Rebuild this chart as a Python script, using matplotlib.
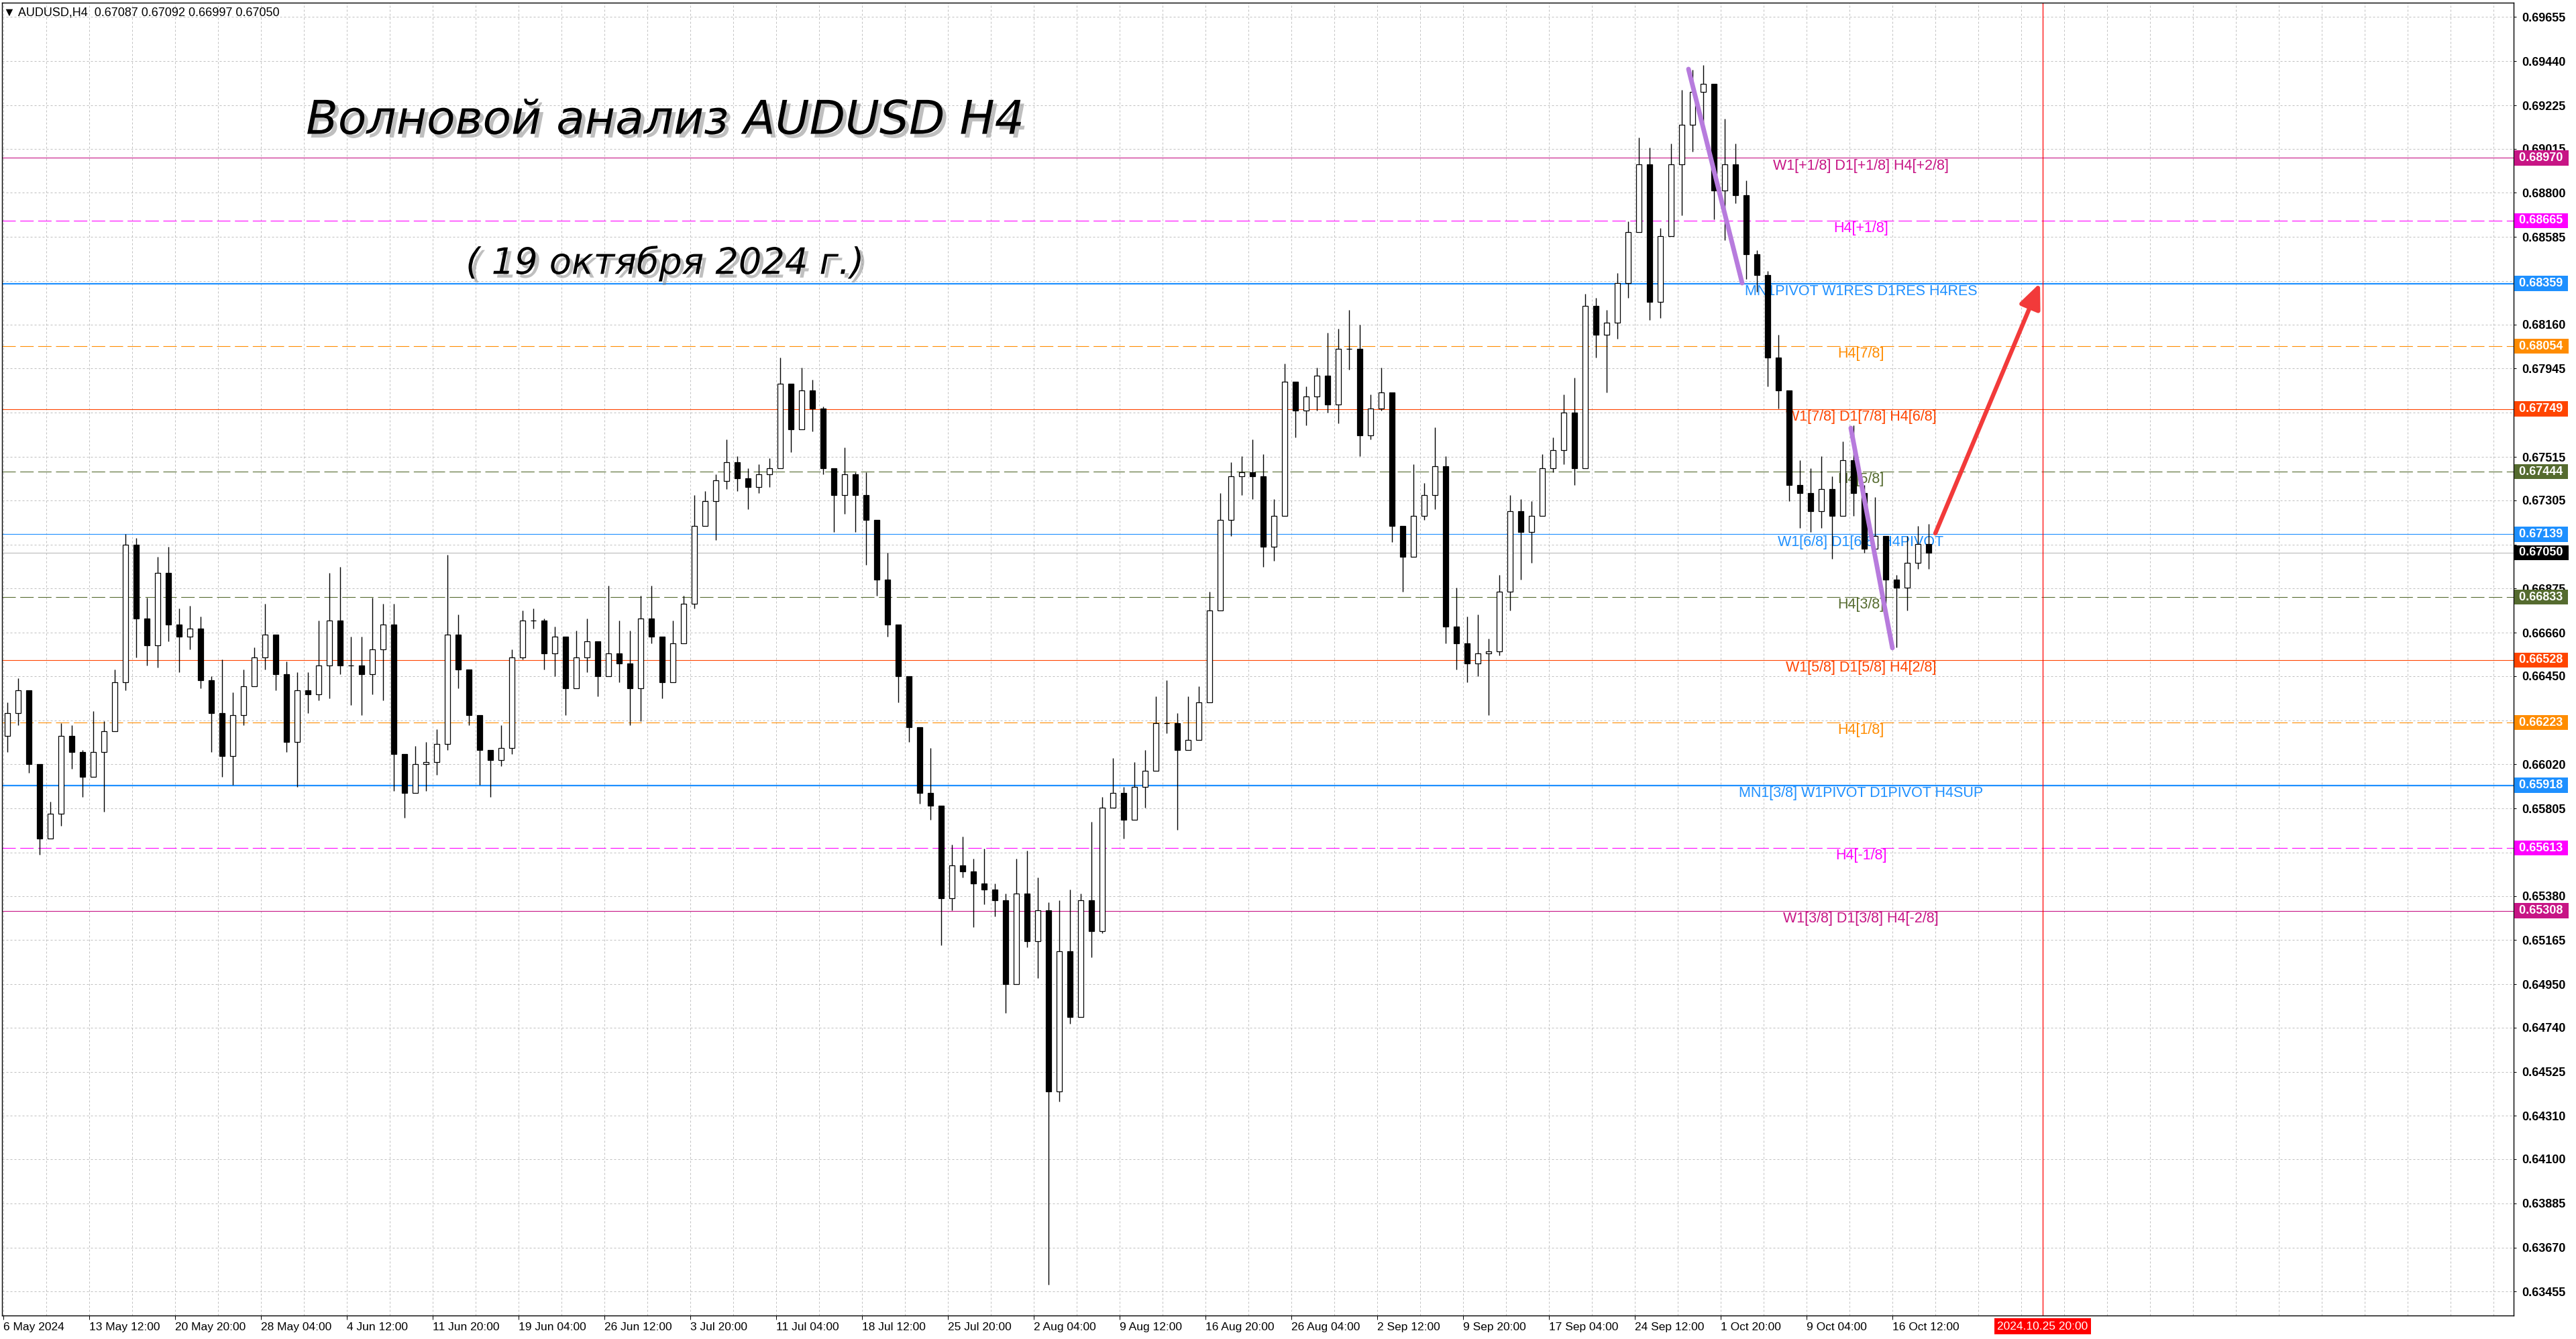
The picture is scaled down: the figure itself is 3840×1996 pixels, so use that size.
import numpy as np
import matplotlib
matplotlib.use("Agg")
from matplotlib import pyplot as plt
from matplotlib import patheffects as pe
from matplotlib import transforms as mtrans
from matplotlib import font_manager as fm

first_open = 0.6616
closes = [
    0.6627, 0.6638, 0.6602, 0.6566, 0.6578, 0.6616, 0.6608, 0.6596, 0.6608, 0.6618,
    0.6642, 0.6709, 0.6673, 0.6660, 0.6695, 0.6670, 0.6664, 0.6668, 0.6643, 0.6627,
    0.6606, 0.6626, 0.6640, 0.6654, 0.6665, 0.6646, 0.6613, 0.6638, 0.6636, 0.6650,
    0.6672, 0.6650, 0.6650, 0.6646, 0.6658, 0.6670, 0.6607, 0.6588, 0.6602, 0.6603,
    0.6612, 0.6665, 0.6648, 0.6626, 0.6609, 0.6604,
    0.6610, 0.6654, 0.6672, 0.6672, 0.6656, 0.6664, 0.6639, 0.6654, 0.6662, 0.6645,
    0.6656, 0.6651, 0.6639, 0.6673, 0.6664, 0.6642, 0.6661, 0.6680, 0.6718, 0.6730,
    0.6740, 0.6749, 0.6741, 0.6737, 0.6743, 0.6746, 0.6787, 0.6765, 0.6784, 0.6775,
    0.6746, 0.6733, 0.6743, 0.6733, 0.6721, 0.6692, 0.6670, 0.6645, 0.6620, 0.6588,
    0.6582, 0.6537, 0.6553, 0.6550, 0.6544, 0.6541,
    0.6536, 0.6495, 0.6539, 0.6516, 0.6531, 0.6443, 0.6511, 0.6479, 0.6536, 0.6521,
    0.6581, 0.6588, 0.6575, 0.6591, 0.6599, 0.6622, 0.6622, 0.6609, 0.6614, 0.6632,
    0.6677, 0.6721, 0.6742, 0.6744, 0.6742, 0.6708, 0.6723, 0.6788, 0.6774, 0.6781,
    0.6791, 0.6777, 0.6804, 0.6804, 0.6762, 0.6775, 0.6783, 0.6718, 0.6703, 0.6723,
    0.6733, 0.6747, 0.6669, 0.6661, 0.6651, 0.6656,
    0.6657, 0.6686, 0.6725, 0.6715, 0.6723, 0.6746, 0.6755, 0.6773, 0.6746, 0.6825,
    0.6811, 0.6817, 0.6836, 0.6861, 0.6894, 0.6827, 0.6859, 0.6894, 0.6913, 0.6929,
    0.6933, 0.6881, 0.6894, 0.6879, 0.6850, 0.6840, 0.6800, 0.6784, 0.6738, 0.6734,
    0.6725, 0.6736, 0.6723, 0.6750, 0.6734, 0.6707, 0.6713, 0.6692, 0.6688, 0.6700,
    0.6709, 0.67050,
]
highs = [
    0.6632, 0.6644, 0.6619, 0.6602, 0.6584, 0.6622, 0.6621, 0.6609, 0.6628, 0.6623,
    0.6648, 0.6714, 0.6712, 0.6683, 0.6703, 0.6708, 0.6678, 0.6679, 0.6674, 0.6645,
    0.6653, 0.6637, 0.6648, 0.6659, 0.6680, 0.6665, 0.6652, 0.6647, 0.6647, 0.6672,
    0.6695, 0.6698, 0.6664, 0.6664, 0.6683, 0.6680, 0.6680, 0.6598, 0.6611, 0.6613,
    0.6619, 0.6704, 0.6675, 0.6641, 0.6619, 0.6609,
    0.6621, 0.6658, 0.6677, 0.6678, 0.6673, 0.6669, 0.6661, 0.6667, 0.6673, 0.6651,
    0.6689, 0.6672, 0.6667, 0.6684, 0.6689, 0.6664, 0.6672, 0.6684, 0.6733, 0.6735,
    0.6743, 0.6760, 0.6752, 0.6746, 0.6748, 0.6751, 0.6800, 0.6784, 0.6795, 0.6789,
    0.6776, 0.6744, 0.6756, 0.6744, 0.6744, 0.6709, 0.6705, 0.6667, 0.6639, 0.6615,
    0.6610, 0.6575, 0.6563, 0.6567, 0.6556, 0.6561,
    0.6544, 0.6539, 0.6556, 0.6560, 0.6547, 0.6535, 0.6536, 0.6541, 0.6539, 0.6574,
    0.6586, 0.6605, 0.6591, 0.6603, 0.6609, 0.6635, 0.6643, 0.6627, 0.6635, 0.6640,
    0.6686, 0.6734, 0.6749, 0.6752, 0.6760, 0.6753, 0.6731, 0.6797, 0.6787, 0.6786,
    0.6795, 0.6812, 0.6814, 0.6823, 0.6816, 0.6782, 0.6795, 0.6753, 0.6716, 0.6748,
    0.6739, 0.6766, 0.6752, 0.6688, 0.6674, 0.6675,
    0.6663, 0.6694, 0.6733, 0.6731, 0.6730, 0.6753, 0.6761, 0.6782, 0.6790, 0.6831,
    0.6829, 0.6823, 0.6841, 0.6866, 0.6907, 0.6902, 0.6863, 0.6904, 0.6930, 0.6940,
    0.6942, 0.6933, 0.6916, 0.6904, 0.6886, 0.6852, 0.6842, 0.6811, 0.6771, 0.6750,
    0.6746, 0.6752, 0.6742, 0.6759, 0.6767, 0.6738, 0.6732, 0.6707, 0.6694, 0.6713,
    0.6718, 0.6719,
]
lows = [
    0.6608, 0.6621, 0.6598, 0.6558, 0.6566, 0.6572, 0.6600, 0.6586, 0.6596, 0.6579,
    0.6621, 0.6638, 0.6654, 0.6650, 0.6649, 0.6662, 0.6647, 0.6658, 0.6639, 0.6608,
    0.6596, 0.6592, 0.6621, 0.6640, 0.6648, 0.6638, 0.6608, 0.6591, 0.6627, 0.6633,
    0.6634, 0.6646, 0.6631, 0.6626, 0.6636, 0.6633, 0.6589, 0.6576, 0.6589, 0.6589,
    0.6597, 0.6609, 0.6639, 0.6621, 0.6592, 0.6586,
    0.6601, 0.6607, 0.6653, 0.6668, 0.6648, 0.6645, 0.6626, 0.6642, 0.6647, 0.6635,
    0.6645, 0.6642, 0.6621, 0.6623, 0.6661, 0.6634, 0.6645, 0.6669, 0.6678, 0.6719,
    0.6711, 0.6736, 0.6735, 0.6726, 0.6734, 0.6737, 0.6749, 0.6754, 0.6765, 0.6764,
    0.6743, 0.6715, 0.6724, 0.6715, 0.6699, 0.6684, 0.6664, 0.6632, 0.6613, 0.6583,
    0.6575, 0.6514, 0.6531, 0.6547, 0.6523, 0.6534,
    0.6528, 0.6481, 0.6500, 0.6513, 0.6498, 0.6349, 0.6438, 0.6476, 0.6479, 0.6508,
    0.6520, 0.6581, 0.6566, 0.6578, 0.6581, 0.6604, 0.6617, 0.6570, 0.6609, 0.6622,
    0.6656, 0.6686, 0.6713, 0.6733, 0.6731, 0.6698, 0.6701, 0.6723, 0.6761, 0.6767,
    0.6774, 0.6773, 0.6768, 0.6794, 0.6752, 0.6760, 0.6774, 0.6710, 0.6686, 0.6713,
    0.6721, 0.6726, 0.6661, 0.6648, 0.6642, 0.6645,
    0.6626, 0.6655, 0.6677, 0.6692, 0.6700, 0.6732, 0.6744, 0.6748, 0.6738, 0.6746,
    0.6800, 0.6783, 0.6809, 0.6829, 0.6863, 0.6818, 0.6819, 0.6859, 0.6869, 0.6900,
    0.6913, 0.6867, 0.6857, 0.6875, 0.6838, 0.6832, 0.6786, 0.6775, 0.6730, 0.6717,
    0.6715, 0.6717, 0.6702, 0.6727, 0.6723, 0.6705, 0.6703, 0.6680, 0.6659, 0.6677,
    0.6697, 0.6697,
]
bars_per_candle = 4

date_labels = ["6 May 2024", "13 May 12:00", "20 May 20:00", "28 May 04:00", "4 Jun 12:00",
               "11 Jun 20:00", "19 Jun 04:00", "26 Jun 12:00", "3 Jul 20:00", "11 Jul 04:00",
               "18 Jul 12:00", "25 Jul 20:00", "2 Aug 04:00", "9 Aug 12:00", "16 Aug 20:00",
               "26 Aug 04:00", "2 Sep 12:00", "9 Sep 20:00", "17 Sep 04:00", "24 Sep 12:00",
               "1 Oct 20:00", "9 Oct 04:00", "16 Oct 12:00"]
price_ticks = [0.69655, 0.69440, 0.69225, 0.69015, 0.68800, 0.68585, 0.68370, 0.68160,
               0.67945, 0.67730, 0.67515, 0.67305, 0.67090, 0.66875, 0.66660, 0.66450,
               0.66235, 0.66020, 0.65805, 0.65590, 0.65380, 0.65165, 0.64950, 0.64740,
               0.64525, 0.64310, 0.64100, 0.63885, 0.63670, 0.63455]
# scale labels that sit fully under a price box in the terminal
hidden_ticks = [0.67730, 0.67090, 0.65590]

# Murrey / pivot levels
levels = [0.68970, 0.68665, 0.68359, 0.68054, 0.67749, 0.67444, 0.67139,
          0.66833, 0.66528, 0.66223, 0.65918, 0.65613, 0.65308]
level_names = ["W1[+1/8] D1[+1/8] H4[+2/8]", "H4[+1/8]", "MN1PIVOT W1RES D1RES H4RES",
               "H4[7/8]", "W1[7/8] D1[7/8] H4[6/8]", "H4[5/8]", "W1[6/8] D1[6/8] H4PIVOT",
               "H4[3/8]", "W1[5/8] D1[5/8] H4[2/8]", "H4[1/8]", "MN1[3/8] W1PIVOT D1PIVOT H4SUP",
               "H4[-1/8]", "W1[3/8] D1[3/8] H4[-2/8]"]
bid = 0.67050
last_bar_text = "AUDUSD,H4  0.67087 0.67092 0.66997 0.67050"

# wave marks and forecast (bar index, price)
wave1_x = [628, 648]
wave1_y = [0.69402, 0.68361]
wave2_x = [688.5, 704]
wave2_y = [0.67656, 0.66586]
arrow_x = [720, 759]
arrow_y = [0.67144, 0.68361]
future_bar = 760
future_text = "2024.10.25 20:00"

VR, MAG, BLUE, ORG, ORED, OLIVE = "#C71585", "#FF00FF", "#1E90FF", "#FF8C00", "#FF4500", "#556B2F"
level_colors = [VR, MAG, BLUE, ORG, ORED, OLIVE, BLUE, OLIVE, ORED, ORG, BLUE, MAG, VR]
dash = (0, (18, 6))
level_ls = ["-", dash, "-", dash, "-", dash, "-", dash, "-", dash, "-", dash, "-"]
level_lw = [0.8, 0.8, 1.6, 0.8, 0.8, 0.8, 0.8, 0.8, 0.8, 0.8, 1.6, 0.8, 0.8]

try:
    fm.findfont("Liberation Sans Narrow", fallback_to_default=False)
    narrow, narrow_size = "Liberation Sans Narrow", 15.5
except ValueError:
    narrow, narrow_size = "Liberation Sans", 12.5

W, H = 3840, 1996
fig = plt.figure(figsize=(W / 100, H / 100), dpi=100)
ax = fig.add_axes([3 / W, 35 / H, (3747 - 3) / W, (1961 - 4) / H])
ax.set_xlim(-0.5, 935.5)
ax.set_ylim(0.63339, 0.69725)

# grid
for gx in range(0, 936, 16):
    ax.axvline(gx, color="#C0C0C0", lw=0.72, ls=(0, (3, 3)), zorder=0.5)
for gy in price_ticks:
    ax.axhline(gy, color="#C0C0C0", lw=0.72, ls=(0, (3, 3)), zorder=0.5)

# levels
for lv, col, ls, lw, name in zip(levels, level_colors, level_ls, level_lw, level_names):
    ax.axhline(lv, color=col, ls=ls, lw=lw, zorder=1.5)
    ax.text(692.25, lv - 0.00004, name, color=col, fontsize=15.5, family="Liberation Sans",
            ha="center", va="top", zorder=2)
ax.axhline(bid, color="#C0C0C0", lw=0.9, zorder=1.5)
ax.axvline(future_bar, color="red", lw=0.9, zorder=1.5)

# candles
o = np.array([first_open] + closes[:-1])
c = np.array(closes)
hi = np.maximum(np.array(highs), np.maximum(o, c))
lo = np.minimum(np.array(lows), np.minimum(o, c))
x = np.arange(len(c)) * bars_per_candle + 1.5
up = c >= o
ax.vlines(x, lo, hi, color="black", lw=1.0, zorder=4)
ax.bar(x[up], c[up] - o[up], bottom=o[up], width=2.2, color="white",
       edgecolor="black", linewidth=0.9, zorder=5)
ax.bar(x[~up], o[~up] - c[~up], bottom=c[~up], width=2.2, color="black",
       edgecolor="black", linewidth=0.9, zorder=5)

# wave marks
ax.plot(wave1_x, wave1_y, color="#B77BDD", lw=5, solid_capstyle="round", zorder=6)
ax.plot(wave2_x, wave2_y, color="#B77BDD", lw=5, solid_capstyle="round", zorder=6)
ax.annotate("", xy=(arrow_x[1], arrow_y[1]), xytext=(arrow_x[0], arrow_y[0]),
            arrowprops=dict(arrowstyle="-|>,head_length=1.5,head_width=0.65",
                            color="#F23A3A", lw=4.6, mutation_scale=15, shrinkA=0, shrinkB=0),
            zorder=7)

# axes look
for s in ax.spines.values():
    s.set_color("black")
    s.set_linewidth(1)
ax.yaxis.tick_right()
ax.set_yticks(price_ticks, ["" if v in hidden_ticks else f"{v:.5f}" for v in price_ticks])
ax.tick_params(axis="y", length=3, width=0.72, pad=6, labelsize=13)
for t in ax.get_yticklabels():
    t.set_family("Liberation Sans")
    t.set_fontweight("bold")
ax.set_xticks(range(0, 32 * len(date_labels), 32), date_labels)
ax.tick_params(axis="x", length=4, width=0.72, pad=3, labelsize=narrow_size)
for t in ax.get_xticklabels():
    t.set_ha("left")
    t.set_family([narrow, "DejaVu Sans"])

# price boxes on the right scale
tr = mtrans.blended_transform_factory(fig.transFigure, ax.transData)
for lv, col in zip(levels + [bid], level_colors + ["black"]):
    ax.text(3750.5 / W, lv, f" {lv:.5f} ", transform=tr, color="white", fontsize=13,
            family="Liberation Sans", fontweight="bold", ha="left", va="center",
            clip_on=False, zorder=10,
            bbox=dict(boxstyle="square,pad=0.15", fc=col, ec="none"))

# future time box on the time scale
trx = mtrans.blended_transform_factory(ax.transData, ax.transAxes)
ax.text(future_bar, -16 / 1957, future_text, transform=trx, color="white",
        fontsize=narrow_size, family=[narrow, "DejaVu Sans"], ha="center", va="center",
        clip_on=False, zorder=10, bbox=dict(boxstyle="square,pad=0.25", fc="red", ec="none"))

# header and titles
fig.text(5 / W, 1 - 19.5 / H, "\u25bc " + last_bar_text, fontsize=13,
         family=[narrow, "DejaVu Sans"], va="center", ha="left")
shadow = [pe.withSimplePatchShadow(offset=(4, -4), shadow_rgbFace="#808080", alpha=0.5)]
fig.text(992 / W, 1 - 180 / H, "Волновой анализ AUDUSD H4", fontsize=50, style="italic",
         family="DejaVu Sans", ha="center", va="center", path_effects=shadow)
fig.text(991 / W, 1 - 393 / H, "( 19 октября 2024 г.)", fontsize=39, style="italic",
         family="DejaVu Sans", ha="center", va="center", path_effects=shadow)

fig.savefig("out.png", dpi=100)
